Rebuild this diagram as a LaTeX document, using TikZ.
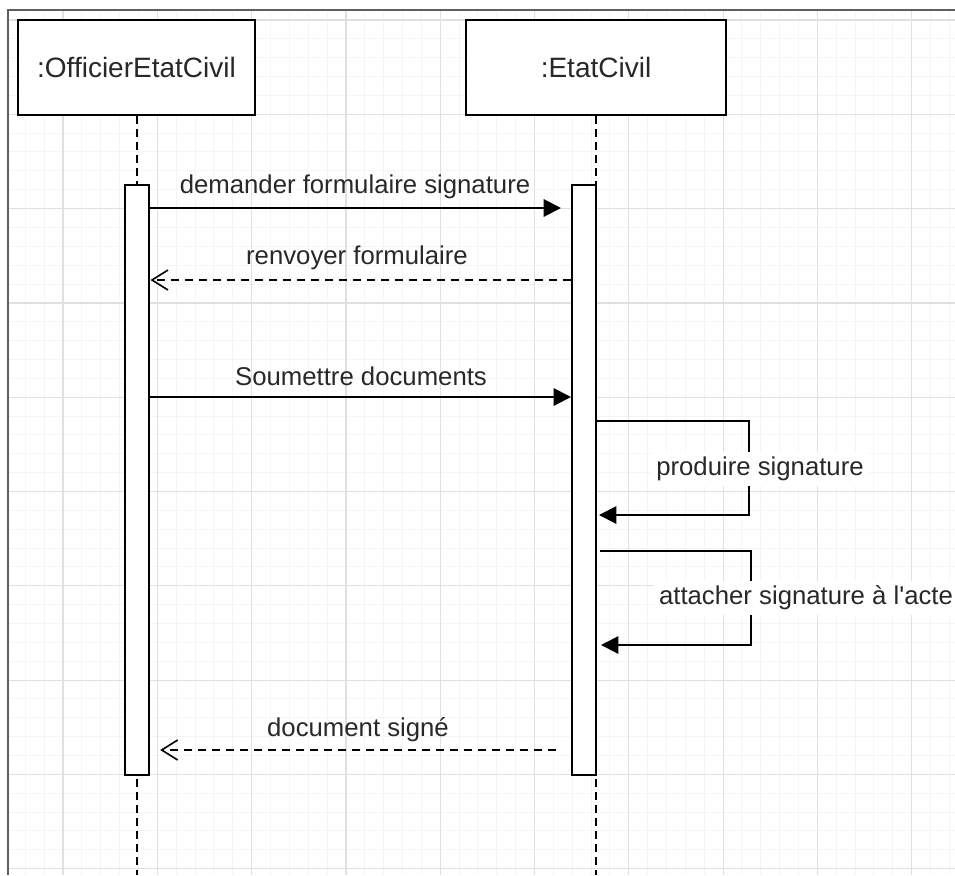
\documentclass[tikz,border=0pt]{standalone}
\usepackage{fontspec}
\setmainfont{Liberation Sans}
\usetikzlibrary{arrows.meta,positioning}
\definecolor{sqedge}{RGB}{0,0,0}
\definecolor{sqtext}{RGB}{40,40,40}
\definecolor{sqframe}{RGB}{95,95,95}
\definecolor{sqmaj}{RGB}{224,224,224}
\definecolor{sqmin}{RGB}{245,245,245}
\tikzset{
  head/.style={
    draw=sqedge, fill=white, line width=1.5pt, inner sep=0pt,
    minimum width=177.75pt, minimum height=71.25pt,
    font=\fontsize{21}{25}\selectfont, text=sqtext
  },
  actbar/.style={
    draw=sqedge, fill=white, line width=1.5pt, inner sep=0pt,
    minimum width=18pt, minimum height=442.5pt
  },
  lifeline/.style={draw=sqedge, line width=1.5pt, dash pattern=on 6pt off 3.75pt},
  msg/.style={-{Triangle[length=13pt,width=13pt]}, draw=sqedge, line width=1.5pt},
  ret/.style={-{Straight Barb[length=12pt,width=15pt]}, draw=sqedge, line width=1.2pt,
    dash pattern=on 6pt off 4.5pt},
  lbl/.style={font=\fontsize{19.3}{23}\selectfont, text=sqtext, inner sep=1pt},
  slbl/.style={lbl, fill=white, inner sep=4pt}
}

\begin{document}
\begin{tikzpicture}[x=0.75pt, y=-0.75pt]
  \useasboundingbox (0,0) rectangle (955,875);
  % GRID
  \begin{scope}
    \clip (8,10) rectangle (955,875);
    \foreach \i in {0,...,50} \draw[sqmin, line width=0.75pt] ({6.4+18.86*\i},0) -- ++(0,875);
    \foreach \i in {0,...,46} \draw[sqmin, line width=0.75pt] (0,{1.1+18.86*\i}) -- ++(955,0);
    \foreach \i in {0,...,9} \draw[sqmaj, line width=0.9pt] ({63+94.3*\i},0) -- ++(0,875);
    \foreach \i in {0,...,9} \draw[sqmaj, line width=0.9pt] (0,{20+94.3*\i}) -- ++(955,0);
  \end{scope}
  \draw[sqframe, line width=1.2pt] (8,875) -- (8,10) -- (955,10);
  % HEADS
  \node[head] (off) at (136.5,67.5) {:OfficierEtatCivil};
  \node[head, minimum width=195pt] (ec) at (596,67.5) {:EtatCivil};
  \coordinate (bot) at (0,875);
  \draw[lifeline] (off.south) -- (off.south |- bot);
  \draw[lifeline] (ec.south) -- (ec.south |- bot);
  % ACTIVATIONS
  \node[actbar] (aoff) at (136.5,480) {};
  \node[actbar] (aec) at (584,480) {};
  % MESSAGES
  \coordinate (y1) at (0,208);
  \coordinate (y2) at (0,280);
  \coordinate (y3) at (0,397);
  \coordinate (y6) at (0,750);
  \draw[msg, shorten >=7.5pt] (aoff.east |- y1) -- (aec.west |- y1);
  \node[lbl] (m1) at (355,187) {demander formulaire signature};
  \draw[ret, shorten >=0.75pt] (aec.west |- y2) -- (aoff.east |- y2);
  \node[lbl] (m2) at (357,258) {renvoyer formulaire};
  \draw[msg] (aoff.east |- y3) -- (aec.west |- y3);
  \node[lbl] (m3) at (361,376) {Soumettre documents};
  \draw[ret, shorten <=11pt, shorten >=8pt] (aec.west |- y6) -- (aoff.east |- y6);
  \node[lbl] (m6) at (358,730) {document signé};
  % SELF CALLS
  \coordinate (s1) at (749,421);
  \coordinate (s1b) at (749,515);
  \draw[msg, shorten >=1.5pt] (aec.east |- s1) -- (s1) -- (s1b) -- (aec.east |- s1b);
  \node[slbl] (m4) at (760,469) {produire signature};
  \coordinate (s2) at (751,551);
  \coordinate (s2b) at (751,645);
  \draw[msg, shorten <=2.25pt, shorten >=3pt] (aec.east |- s2) -- (s2) -- (s2b) -- (aec.east |- s2b);
  \node[slbl] (m5) at (806,598) {attacher signature à l\textquotesingle acte};
\end{tikzpicture}
\end{document}
